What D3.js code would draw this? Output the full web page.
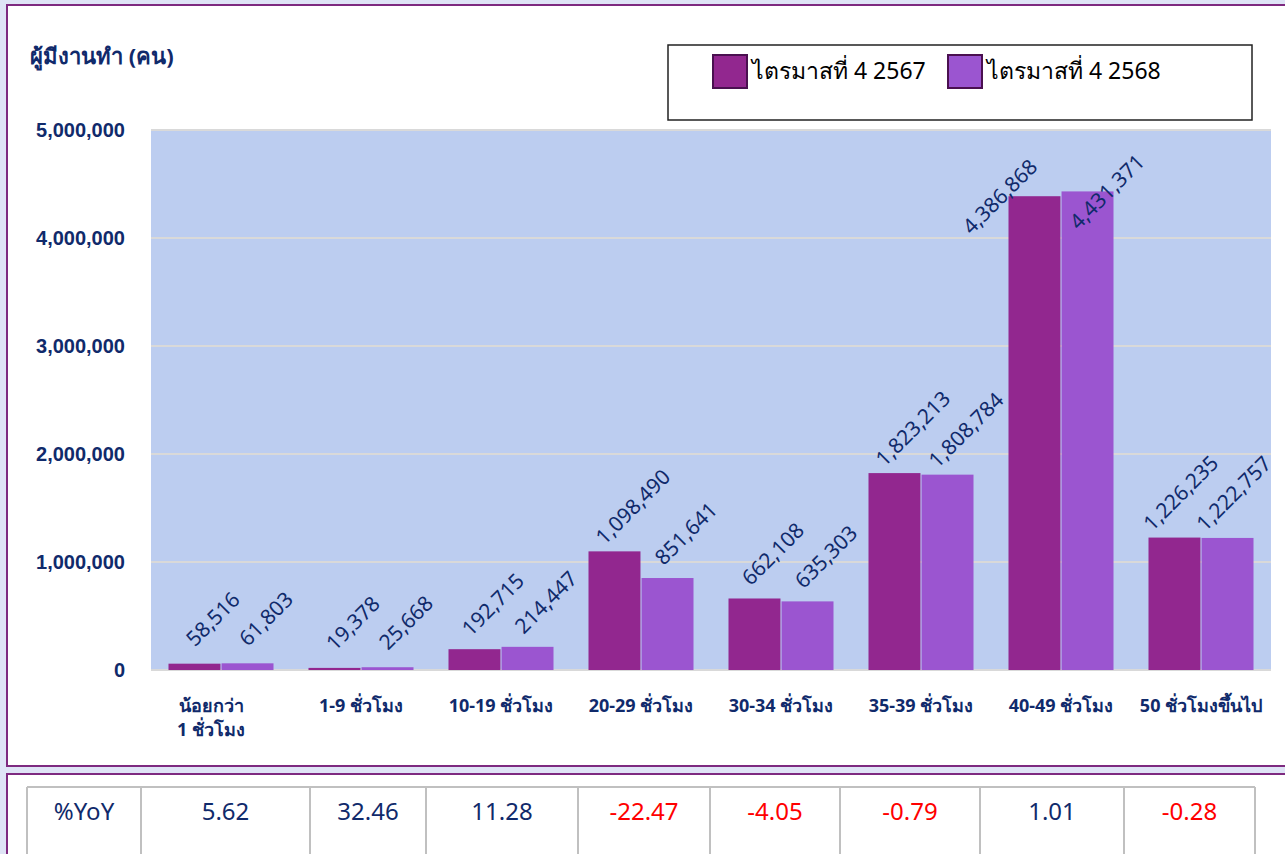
<!DOCTYPE html>
<html>
<head>
<meta charset="utf-8">
<script src="https://cdn.jsdelivr.net/npm/d3@7"></script>
<style>
  body { margin: 0; background: #dfe4f6; }
  svg { display: block; font-family: Tahoma, "Noto Sans", "DejaVu Sans", sans-serif; }
</style>
</head>
<body>
<svg id="chart" width="1285" height="854"></svg>
<script>
// data
var categories = [
  ["น้อยกว่า", "1 ชั่วโมง"],
  ["1-9 ชั่วโมง"],
  ["10-19 ชั่วโมง"],
  ["20-29 ชั่วโมง"],
  ["30-34 ชั่วโมง"],
  ["35-39 ชั่วโมง"],
  ["40-49 ชั่วโมง"],
  ["50 ชั่วโมงขึ้นไป"]
];
var seriesNames = ["ไตรมาสที่ 4 2567", "ไตรมาสที่ 4 2568"];
var q4_2567 = [58516, 19378, 192715, 1098490, 662108, 1823213, 4386868, 1226235];
var q4_2568 = [61803, 25668, 214447, 851641, 635303, 1808784, 4431371, 1222757];
var yoyLabel = "%YoY";
var yoy = [5.62, 32.46, 11.28, -22.47, -4.05, -0.79, 1.01, -0.28];
var yTicks = [0, 1000000, 2000000, 3000000, 4000000, 5000000];
var yTitle = "ผู้มีงานทำ (คน)";

var colors = ["#92278f", "#9b55d0"];
var navy = "#102a6b";

var svg = d3.select("#chart");

// panels
svg.append("rect").attr("x", 7).attr("y", 5).attr("width", 1290).attr("height", 761)
  .attr("fill", "#fff").attr("stroke", "#7e2a80").attr("stroke-width", 2);
svg.append("rect").attr("x", 7).attr("y", 774).attr("width", 1290).attr("height", 100)
  .attr("fill", "#fff").attr("stroke", "#7e2a80").attr("stroke-width", 2);

var plot = {left: 151, right: 1271, top: 130, bottom: 670};

var x0 = d3.scaleBand()
  .domain(d3.range(categories.length))
  .range([plot.left, plot.right])
  .paddingInner(0.25).paddingOuter(0.125);
var x1 = d3.scaleBand()
  .domain([0, 1])
  .range([0, x0.bandwidth()])
  .paddingInner(0.02);
var y = d3.scaleLinear().domain([0, 5000000]).range([plot.bottom, plot.top]);

svg.append("rect")
  .attr("x", plot.left).attr("y", plot.top)
  .attr("width", plot.right - plot.left).attr("height", plot.bottom - plot.top)
  .attr("fill", "#bccdf0");

// gridlines
svg.append("g").selectAll("line").data(yTicks).enter().append("line")
  .attr("x1", plot.left).attr("x2", plot.right)
  .attr("y1", function(d){ return y(d); }).attr("y2", function(d){ return y(d); })
  .attr("stroke", "#d9d9d9").attr("stroke-width", 2);

// y axis
var yAxis = svg.append("g")
  .attr("transform", "translate(" + (plot.left - 26) + ",0)")
  .call(d3.axisLeft(y).tickValues(yTicks).tickFormat(d3.format(",")).tickSize(0).tickPadding(0));
yAxis.select(".domain").remove();
yAxis.selectAll("text")
  .attr("fill", navy).style("font-size", "20px").style("font-weight", "bold");

svg.append("text").attr("x", 30).attr("y", 64)
  .attr("fill", navy).style("font-size", "22px").style("font-weight", "bold")
  .text(yTitle);

// x labels
var xl = svg.append("g").selectAll("text").data(categories).enter().append("text")
  .attr("text-anchor", "middle")
  .attr("fill", navy).style("font-size", "18px").style("font-weight", "bold")
  .attr("transform", function(d, i){
    var cx = x0(i) + x0.bandwidth() / 2 + (d.length > 1 ? -10 : 0);
    return "translate(" + cx + ",712)";
  });
xl.selectAll("tspan").data(function(d){ return d; }).enter().append("tspan")
  .attr("x", 0).attr("dy", function(d, j){ return j === 0 ? 0 : 24; })
  .text(function(d){ return d; });

// bars
var series = [q4_2567, q4_2568];
var groups = svg.append("g").selectAll("g").data(categories).enter().append("g")
  .attr("transform", function(d, i){ return "translate(" + x0(i) + ",0)"; });

groups.selectAll("rect")
  .data(function(d, i){ return series.map(function(s, k){ return {k: k, v: s[i]}; }); })
  .enter().append("rect")
  .attr("x", function(d){ return x1(d.k); })
  .attr("y", function(d){ return y(d.v); })
  .attr("width", x1.bandwidth())
  .attr("height", function(d){ return plot.bottom - y(d.v); })
  .attr("fill", function(d){ return colors[d.k]; });

// value labels, rotated; pushed down when they hit the top, shifted left at the right edge
var fmt = d3.format(",");
groups.each(function(d, i){
  var g = d3.select(this);
  var labs = series.map(function(s, k){
    var cx = x1(k) + x1.bandwidth() / 2;
    var top = y(s[i]);
    var t = g.append("text")
      .attr("text-anchor", "middle").attr("dominant-baseline", "central")
      .attr("fill", navy).style("font-size", "21px")
      .text(fmt(s[i]));
    var h = (t.node().getComputedTextLength() / 2) * Math.SQRT1_2;
    var lx = cx + 18, ly = top - 45;
    if (ly - h - 8 < plot.top) {
      ly = top;
      lx = k === 0 ? cx - 35 : cx + 19;
    }
    return {t: t, lx: lx, ly: ly, h: h};
  });
  var over = d3.max(labs, function(l){ return x0(i) + l.lx + l.h + 4 - plot.right; });
  var shift = Math.max(0, over);
  labs.forEach(function(l){
    l.t.attr("transform", "translate(" + (l.lx - shift) + "," + l.ly + ") rotate(-45)");
  });
});

// legend
var lg = svg.append("g");
lg.append("rect").attr("x", 668).attr("y", 45).attr("width", 584).attr("height", 75)
  .attr("fill", "#fff").attr("stroke", "#222").attr("stroke-width", 1.5);
var lgX = [713, 948];
seriesNames.forEach(function(n, k){
  lg.append("rect").attr("x", lgX[k]).attr("y", 55).attr("width", 34).attr("height", 33)
    .attr("fill", colors[k]).attr("stroke", "#4a1050").attr("stroke-width", 2);
  lg.append("text").attr("x", lgX[k] + 39).attr("y", 79)
    .attr("fill", "#000").style("font-size", "23px").text(n);
});

// yoy table
var colEdges = [27, 141, 310, 426, 578, 710, 840, 980, 1124, 1255];
var tbl = svg.append("g");
tbl.append("line").attr("x1", colEdges[0]).attr("x2", colEdges[colEdges.length - 1])
  .attr("y1", 787).attr("y2", 787).attr("stroke", "#c0c0c0").attr("stroke-width", 2);
tbl.selectAll("line.v").data(colEdges).enter().append("line").attr("class", "v")
  .attr("x1", function(d){ return d; }).attr("x2", function(d){ return d; })
  .attr("y1", 787).attr("y2", 854).attr("stroke", "#c0c0c0").attr("stroke-width", 2);
var cells = [yoyLabel].concat(yoy);
tbl.selectAll("text").data(cells).enter().append("text")
  .attr("x", function(d, i){ return (colEdges[i] + colEdges[i + 1]) / 2; })
  .attr("y", 820)
  .attr("text-anchor", "middle")
  .attr("fill", function(d){ return (typeof d === "number" && d < 0) ? "#ff0000" : navy; })
  .style("font-size", "24px")
  .text(function(d){ return typeof d === "number" ? d.toFixed(2) : d; });
</script>
</body>
</html>
